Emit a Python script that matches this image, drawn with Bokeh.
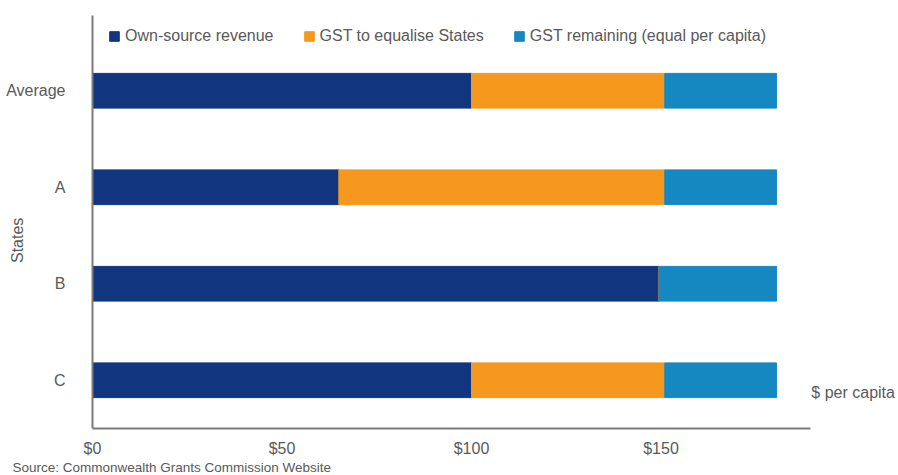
import math
from bokeh.plotting import figure
from bokeh.models import Range1d, Legend, LegendItem, Label, FixedTicker, ColumnDataSource
from bokeh.embed import file_html
from bokeh.resources import INLINE

# ---- data ----
states = ["Average", "A", "B", "C"]
own_source = [100, 65, 149.5, 100]
gst_equalise = [51, 86, 0, 51]
gst_remaining = [29.5, 29.5, 31, 29.5]
x_ticks = [0, 50, 100, 150]
x_tick_labels = ["$0", "$50", "$100", "$150"]
series_names = ["Own-source revenue", "GST to equalise States", "GST remaining (equal per capita)"]
colors = ["#11367f", "#f7981e", "#1587c1"]

FONT = "'Liberation Sans', Arial, sans-serif"
TXT = "#595959"
AXIS = "#7a7a7a"

W, H = 898, 475
ypos = list(range(len(states) - 1, -1, -1))  # Average at top
s1 = [a + b for a, b in zip(own_source, gst_equalise)]
s2 = [a + b for a, b in zip(s1, gst_remaining)]
src = ColumnDataSource(dict(y=ypos, z=[0] * len(states), a=own_source, b=s1, c=s2))

# layout: frame covers the whole canvas; axes drawn at fixed locations
px_per_x = 3.79      # pixels per dollar
x0_px = 92           # pixel of $0
px_per_y = 96.5      # pixels per category
ybot_px = 428        # pixel of axis baseline
x_end = 189.4        # axis extent
y_top = -0.5 + (ybot_px - 15) / px_per_y

p = figure(width=W, height=H, output_backend="svg", toolbar_location=None,
           x_range=Range1d(-x0_px / px_per_x, (W - x0_px) / px_per_x),
           y_range=Range1d(-0.5 - (H - ybot_px) / px_per_y, -0.5 + ybot_px / px_per_y),
           min_border=0, min_border_left=0, min_border_right=0,
           min_border_top=0, min_border_bottom=0)
p.outline_line_color = None
p.grid.visible = False

h = 0.36
r1 = p.hbar(y="y", left="z", right="a", height=h, color=colors[0], source=src)
r2 = p.hbar(y="y", left="a", right="b", height=h, color=colors[1], source=src)
r3 = p.hbar(y="y", left="b", right="c", height=h, color=colors[2], source=src)

# axes
xa = p.xaxis[0]
xa.fixed_location = -0.5
xa.bounds = (0, x_end)
xa.ticker = FixedTicker(ticks=x_ticks)
xa.major_label_overrides = {t: l for t, l in zip(x_ticks, x_tick_labels)}
xa.major_tick_line_color = None
xa.minor_tick_line_color = None
xa.axis_line_color = AXIS
xa.axis_line_width = 2
xa.major_label_standoff = 5
xa.major_label_text_font = FONT
xa.major_label_text_font_size = "16px"
xa.major_label_text_color = TXT

ya = p.yaxis[0]
ya.fixed_location = 0
ya.bounds = (-0.5, y_top)
ya.ticker = FixedTicker(ticks=ypos)
ya.major_label_overrides = {y: s for y, s in zip(ypos, states)}
ya.major_tick_line_color = None
ya.minor_tick_line_color = None
ya.axis_line_color = AXIS
ya.axis_line_width = 2
ya.major_label_standoff = 21
ya.major_label_text_font = FONT
ya.major_label_text_font_size = "16px"
ya.major_label_text_color = TXT

legend = Legend(items=[LegendItem(label=n, renderers=[r]) for n, r in zip(series_names, [r1, r2, r3])],
                orientation="horizontal", location=(108, H - 45))
legend.border_line_color = None
legend.background_fill_alpha = 0
legend.margin = 0
legend.padding = 0
legend.spacing = 29
legend.glyph_width = 12
legend.glyph_height = 12
legend.label_standoff = 5
legend.label_text_font = FONT
legend.label_text_font_size = "16px"
legend.label_text_color = TXT
p.add_layout(legend, "center")

p.add_layout(Label(x=0, y=1.45, x_offset=-75, text="States", angle=math.pi / 2,
                   text_align="center", text_baseline="middle", text_font=FONT,
                   text_font_size="16px", text_color=TXT))
p.add_layout(Label(x=x_end, y=0, x_offset=1, y_offset=-12, text="$ per capita",
                   text_align="left", text_baseline="middle", text_font=FONT,
                   text_font_size="16px", text_color=TXT))
p.add_layout(Label(x=0, y=-0.5, x_offset=-80, y_offset=-39,
                   text="Source: Commonwealth Grants Commission Website",
                   text_align="left", text_baseline="middle", text_font=FONT,
                   text_font_size="13.5px", text_color=TXT))

open("out.html", "w").write(file_html(p, INLINE))
